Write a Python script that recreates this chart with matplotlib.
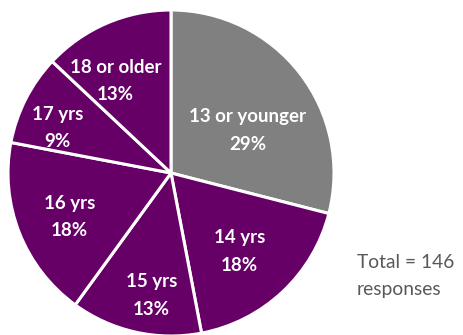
import numpy as np
import matplotlib
matplotlib.use("Agg")
import matplotlib.pyplot as plt

plt.rcParams['font.family'] = ['Lato', 'DejaVu Sans']

categories = ['13 or younger', '14 yrs', '15 yrs', '16 yrs', '17 yrs', '18 or older']
shares = [29, 18, 13, 18, 9, 13]
total_responses = 146

purple = '#660066'
grey = '#808080'
colors = [grey] + [purple] * 5

# label placement: fraction of radius, angle in degrees (counter-clockwise from east)
label_r = [0.54, 0.64, 0.76, 0.68, 0.75, 0.66]
label_ang = [29, -49, -99, -156.5, 158.5, 121]

W, H = 464, 335
cx, cy, R = 171, 173, 163

fig = plt.figure(figsize=(W / 100, H / 100), dpi=100)
ax = fig.add_axes([0, 0, 1, 1])

wedges, _ = ax.pie(shares, colors=colors, startangle=90, counterclock=False,
                   radius=R, center=(0, 0), frame=True,
                   wedgeprops=dict(edgecolor='white', linewidth=2.2))
ax.set_xlim(-cx, W - cx)
ax.set_ylim(-(H - cy), cy)
ax.set_aspect('equal')
ax.axis('off')

for name, val, r, a in zip(categories, shares, label_r, label_ang):
    t = np.deg2rad(a)
    ax.text(r * R * np.cos(t), r * R * np.sin(t), f'{name}\n{val}%',
            ha='center', va='center', color='white', fontsize=13.5,
            fontweight='bold', linespacing=1.75)

ax.text(357 - cx, -(276 - cy), f'Total = {total_responses}\nresponses',
        ha='left', va='center', color='#595959', fontsize=13.9, linespacing=1.68)

fig.savefig('out.png', dpi=100)
